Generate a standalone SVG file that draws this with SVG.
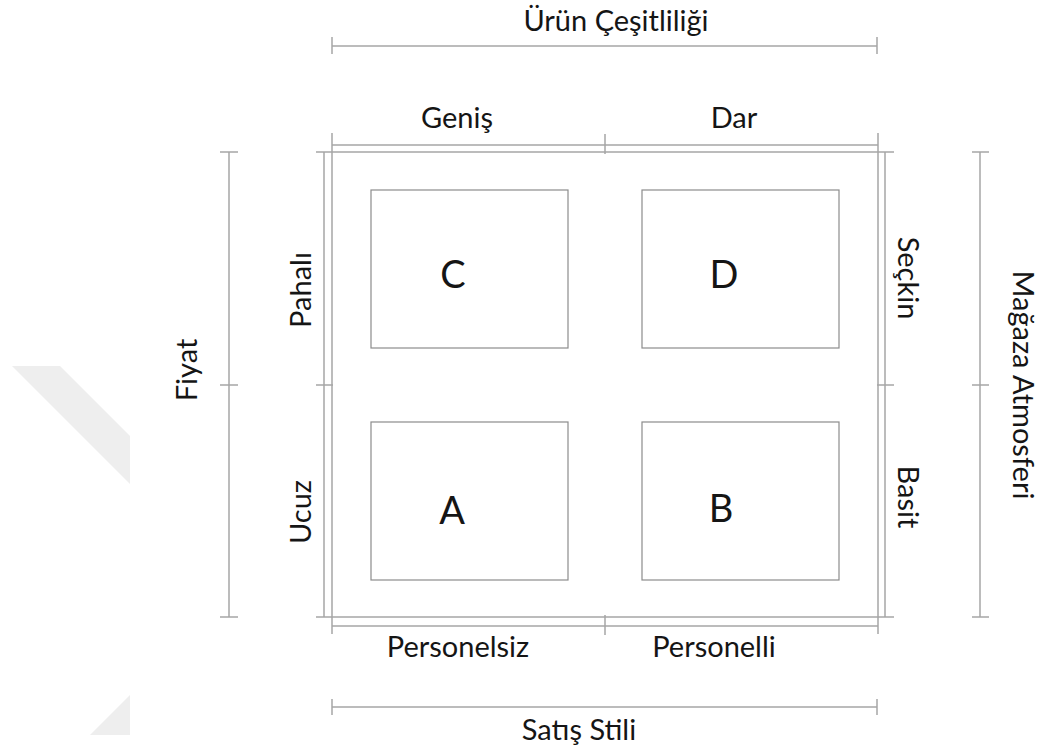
<svg xmlns="http://www.w3.org/2000/svg" width="1041" height="751" viewBox="0 0 1041 751">
  <style>
    .ln { stroke: #a6a6a6; stroke-width: 1.5; fill: none; }
    .box { stroke: #8c8c8c; stroke-width: 1.2; fill: #ffffff; }
    .lbl { font-family: Lato, "Open Sans", sans-serif; font-size: 29px; fill: #151515; text-anchor: middle; }
    .big { font-family: Lato, "Open Sans", sans-serif; font-size: 38px; fill: #151515; text-anchor: middle; }
  </style>
  <rect width="1041" height="751" fill="#ffffff"/>

  <!-- faint background mark -->
  <g id="mark" fill="#eeeeee">
    <polygon points="12,366 60,366 130,436 130,484"/>
    <polygon points="130,695 130,735 90,735"/>
  </g>

  <g id="connectors">
    <!-- matrix frame -->
    <line class="ln" x1="332" y1="133" x2="332" y2="634"/>
    <line class="ln" x1="878" y1="133" x2="878" y2="634"/>
    <line class="ln" x1="316" y1="152" x2="894" y2="152"/>
    <line class="ln" x1="316" y1="617" x2="894" y2="617"/>

    <!-- Geniş / Dar scale -->
    <line class="ln" x1="332" y1="145" x2="878" y2="145"/>
    <line class="ln" x1="605" y1="134" x2="605" y2="154"/>
    <!-- Personelsiz / Personelli scale -->
    <line class="ln" x1="332" y1="626" x2="878" y2="626"/>
    <line class="ln" x1="605" y1="615" x2="605" y2="635"/>
    <!-- Pahalı / Ucuz scale -->
    <line class="ln" x1="324" y1="152" x2="324" y2="617"/>
    <line class="ln" x1="316" y1="385" x2="333" y2="385"/>
    <!-- Seçkin / Basit scale -->
    <line class="ln" x1="885" y1="152" x2="885" y2="617"/>
    <line class="ln" x1="877" y1="385" x2="894" y2="385"/>

    <!-- Ürün Çeşitliliği -->
    <line class="ln" x1="332" y1="46" x2="877" y2="46"/>
    <line class="ln" x1="332" y1="37" x2="332" y2="54"/>
    <line class="ln" x1="877" y1="37" x2="877" y2="54"/>
    <!-- Satış Stili -->
    <line class="ln" x1="332" y1="707" x2="877" y2="707"/>
    <line class="ln" x1="332" y1="699" x2="332" y2="715"/>
    <line class="ln" x1="877" y1="699" x2="877" y2="715"/>
    <!-- Fiyat -->
    <line class="ln" x1="229" y1="152" x2="229" y2="617"/>
    <line class="ln" x1="220" y1="152" x2="238" y2="152"/>
    <line class="ln" x1="220" y1="385" x2="238" y2="385"/>
    <line class="ln" x1="220" y1="617" x2="238" y2="617"/>
    <!-- Mağaza Atmosferi -->
    <line class="ln" x1="980" y1="152" x2="980" y2="617"/>
    <line class="ln" x1="972" y1="152" x2="989" y2="152"/>
    <line class="ln" x1="972" y1="385" x2="989" y2="385"/>
    <line class="ln" x1="972" y1="617" x2="989" y2="617"/>
  </g>

  <g id="node-C">
    <rect class="box" x="371" y="190" width="197" height="158"/>
    <text class="big" x="453" y="288">C</text>
  </g>
  <g id="node-D">
    <rect class="box" x="642" y="190" width="197" height="158"/>
    <text class="big" x="724" y="288">D</text>
  </g>
  <g id="node-A">
    <rect class="box" x="371" y="422" width="197" height="158"/>
    <text class="big" x="452" y="524">A</text>
  </g>
  <g id="node-B">
    <rect class="box" x="642" y="422" width="197" height="158"/>
    <text class="big" x="721" y="522">B</text>
  </g>

  <g id="labels">
    <text class="lbl" x="616" y="31">Ürün Çeşitliliği</text>
    <text class="lbl" x="457" y="128">Geniş</text>
    <text class="lbl" x="734" y="128">Dar</text>
    <text class="lbl" x="458" y="657">Personelsiz</text>
    <text class="lbl" x="714" y="657">Personelli</text>
    <text class="lbl" x="579" y="740">Satış Stili</text>
    <text class="lbl" transform="translate(197,370) rotate(-90)">Fiyat</text>
    <text class="lbl" transform="translate(311,290) rotate(-90)">Pahalı</text>
    <text class="lbl" transform="translate(311,512) rotate(-90)">Ucuz</text>
    <text class="lbl" transform="translate(898,278) rotate(90)">Seçkin</text>
    <text class="lbl" transform="translate(898,497) rotate(90)">Basit</text>
    <text class="lbl" transform="translate(1013,385) rotate(90)">Mağaza Atmosferi</text>
  </g>
</svg>
